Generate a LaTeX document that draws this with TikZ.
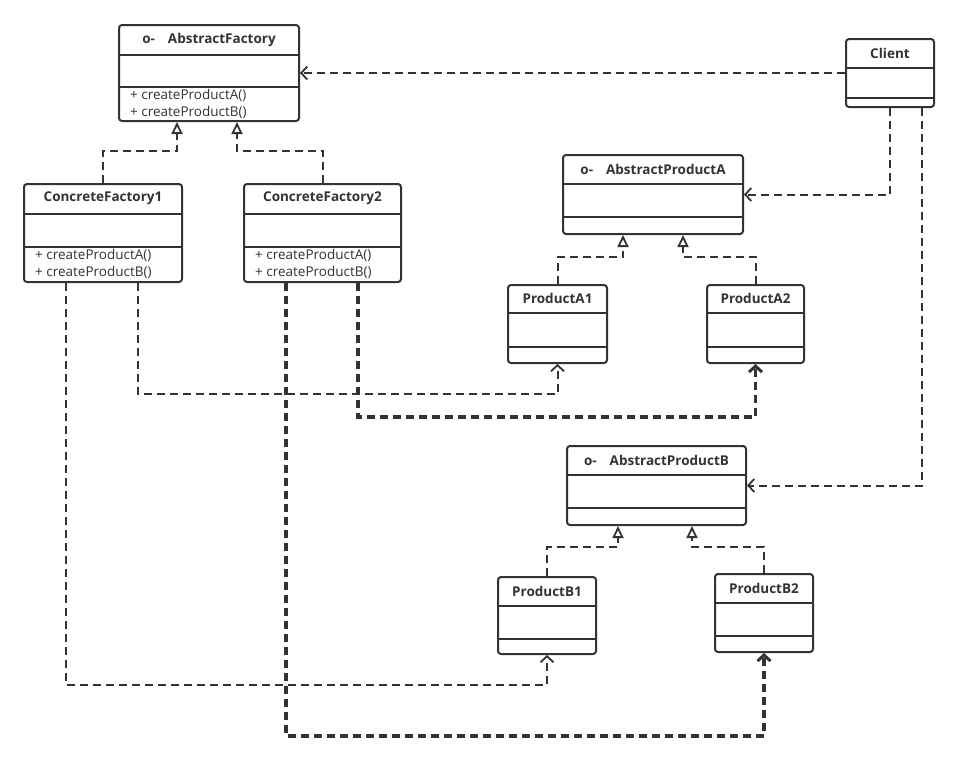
\documentclass[tikz,border=0pt]{standalone}
\usepackage{fontspec}
\setmainfont{Open Sans}
\usetikzlibrary{arrows.meta}
\definecolor{ink}{HTML}{333333}
\tikzset{
 box/.style={draw=ink, line width=2pt, rounded corners=3pt, inner sep=0pt, fill=white},
 sepline/.style={draw=ink, line width=2pt},
 ttl/.style={font=\bfseries\fontsize{13.5}{15}\selectfont, text=ink, inner sep=0pt},
 mth/.style={font=\fontsize{13.5}{15}\selectfont, text=ink, inner sep=0pt, anchor=west},
 dep/.style={draw=ink, line width=2pt, dash pattern=on 8pt off 5pt, -{Straight Barb[length=6pt,width=13pt,line width=1.8pt]}},
 depthick/.style={draw=ink, line width=3.2pt, dash pattern=on 8pt off 5pt, -{Straight Barb[length=6pt,width=13pt,line width=3pt]}},
 real/.style={draw=ink, line width=2pt, dash pattern=on 8pt off 5pt, -{Triangle[open,length=12pt,width=11pt,fill=white,line width=1.8pt]}},
}
\newcommand\umlcls[8]{%
 \node[box, minimum width=#4pt, minimum height=#5pt] (#1) at (#2,#3) {};
 \draw[sepline] ([yshift=-#6pt]#1.north west) -- ([yshift=-#6pt]#1.north east);
 \draw[sepline] ([yshift=-#7pt]#1.north west) -- ([yshift=-#7pt]#1.north east);
 \node[ttl] (#1-t) at ([yshift={-#6/2}]#1.north) {#8};
}
\newcommand\umlmeths[3]{%
 \node[mth] (#1-ma) at ([xshift=12pt,yshift=-#2pt]#1.north west) {+ createProductA()};
 \node[mth] (#1-mb) at ([xshift=12pt,yshift=-#3pt]#1.north west) {+ createProductB()};
}
\begin{document}
\begin{tikzpicture}[x=1pt,y=-1pt]
\useasboundingbox[fill=white] (0,0) rectangle (957,761);

\umlcls{af}{209}{73}{180}{96}{31}{63}{o-\hspace{13pt}AbstractFactory}
\umlmeths{af}{71}{88}
\umlcls{cf1}{103}{233}{158}{98}{31}{64}{ConcreteFactory1}
\umlmeths{cf1}{72}{89}
\umlcls{cf2}{322.5}{233}{157}{98}{31}{64}{ConcreteFactory2}
\umlmeths{cf2}{72}{89}
\umlcls{cl}{890}{73}{88}{68}{30}{60}{Client}
\umlcls{apa}{653}{194.5}{180}{79}{30}{63}{o-\hspace{13pt}AbstractProductA}
\umlcls{pa1}{557.5}{324}{99}{78}{29}{63}{ProductA1}
\umlcls{pa2}{755.5}{324}{97}{78}{29}{63}{ProductA2}
\umlcls{apb}{656.5}{485.5}{179}{79}{30}{63}{o-\hspace{13pt}AbstractProductB}
\umlcls{pb1}{547}{615.5}{98}{77}{30}{63}{ProductB1}
\umlcls{pb2}{764}{613}{98}{78}{30}{63}{ProductB2}

% client dependencies
\draw[dep] (cl.west) -- (af.east);
\draw[dep] (cl.south) |- (apa.east);
\draw[dep] ([xshift=32pt]cl.south) |- (apb.east);

% realizations
\draw[real] (cf1.north) -- ++(0,-32) -| ([xshift=-32pt]af.south);
\draw[real] (cf2.north) -- ++(0,-32) -| ([xshift=28pt]af.south);
\draw[real] (pa1.north) -- ++(0,-27) -| ([xshift=-30pt]apa.south);
\draw[real] (pa2.north) -- ++(0,-27) -| ([xshift=30pt]apa.south);
\draw[real] (pb1.north) -- ++(0,-29) -| ([xshift=-38.5pt]apb.south);
\draw[real] (pb2.north) -- ++(0,-26) -| ([xshift=35.5pt]apb.south);

% factory dependencies
\draw[dep] ([xshift=35pt]cf1.south) -- ++(0,111) -| (pa1.south);
\draw[dep] ([xshift=-37pt]cf1.south) -- ++(0,402) -| (pb1.south);
\draw[depthick] ([xshift=35.5pt]cf2.south) -- ++(0,134) -| (pa2.south);
\draw[depthick] ([xshift=-36.5pt]cf2.south) -- ++(0,453) -| (pb2.south);
\end{tikzpicture}
\end{document}
